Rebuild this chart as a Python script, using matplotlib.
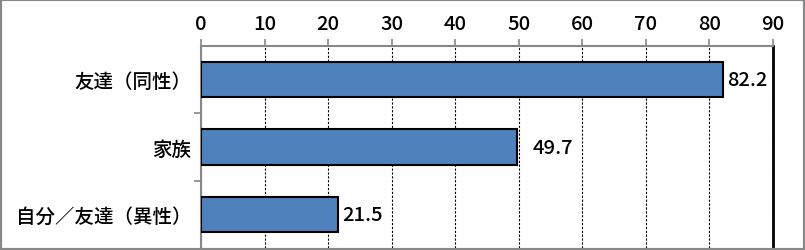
import matplotlib.pyplot as plt
from matplotlib.patches import Rectangle

plt.rcParams['font.family'] = ['Noto Sans CJK JP', 'DejaVu Sans']

categories = ['友達（同性）', '家族', '自分／友達（異性）']
values = [82.2, 49.7, 21.5]
xticks = [0, 10, 20, 30, 40, 50, 60, 70, 80, 90]

# label gap (points) right of each bar, as in the original
label_pad = [2.5, 11, 3]

fig = plt.figure(figsize=(8.05, 2.51), dpi=100)
ax = fig.add_axes([201/805, 2/251, 572/805, 202/251])

pos = list(range(len(categories)))
ax.barh(pos, values, height=0.52, color='#4F81BD', edgecolor='black', linewidth=1.5, zorder=3)

for p, v, pad in zip(pos, values, label_pad):
    ax.annotate(f'{v:.1f}', (v, p), xytext=(pad, 0), textcoords='offset points',
                va='center', ha='left', fontsize=14.5, fontweight='medium')

ax.set_xlim(0, 90)
ax.set_ylim(len(categories) - 0.5, -0.5)
ax.set_xticks(xticks)
ax.xaxis.tick_top()
ax.tick_params(axis='x', direction='out', length=5, width=1.2, color='#888888',
               pad=4, labelsize=14.5)
for t in ax.get_xticklabels():
    t.set_fontweight('medium')
ax.set_yticks(pos)
ax.set_yticklabels(categories, fontsize=14, fontweight='medium')
ax.set_yticks([0.5, 1.5], minor=True)
ax.tick_params(axis='y', which='major', length=0, pad=7)
ax.tick_params(axis='y', which='minor', length=5, width=1.2, color='#888888')

ax.grid(axis='x', color='black', linestyle=(0, (2, 1.5)), linewidth=0.8, zorder=1)

for s in ['left', 'top']:
    ax.spines[s].set_color('#888888')
    ax.spines[s].set_linewidth(1.5)
ax.spines['right'].set_color('black')
ax.spines['right'].set_linewidth(2)
ax.spines['bottom'].set_visible(False)

fig.patches.append(Rectangle((0, 0), 1, 1, transform=fig.transFigure, fill=False,
                             edgecolor='#888888', linewidth=3, zorder=10))

fig.savefig('out.png', dpi=100)
